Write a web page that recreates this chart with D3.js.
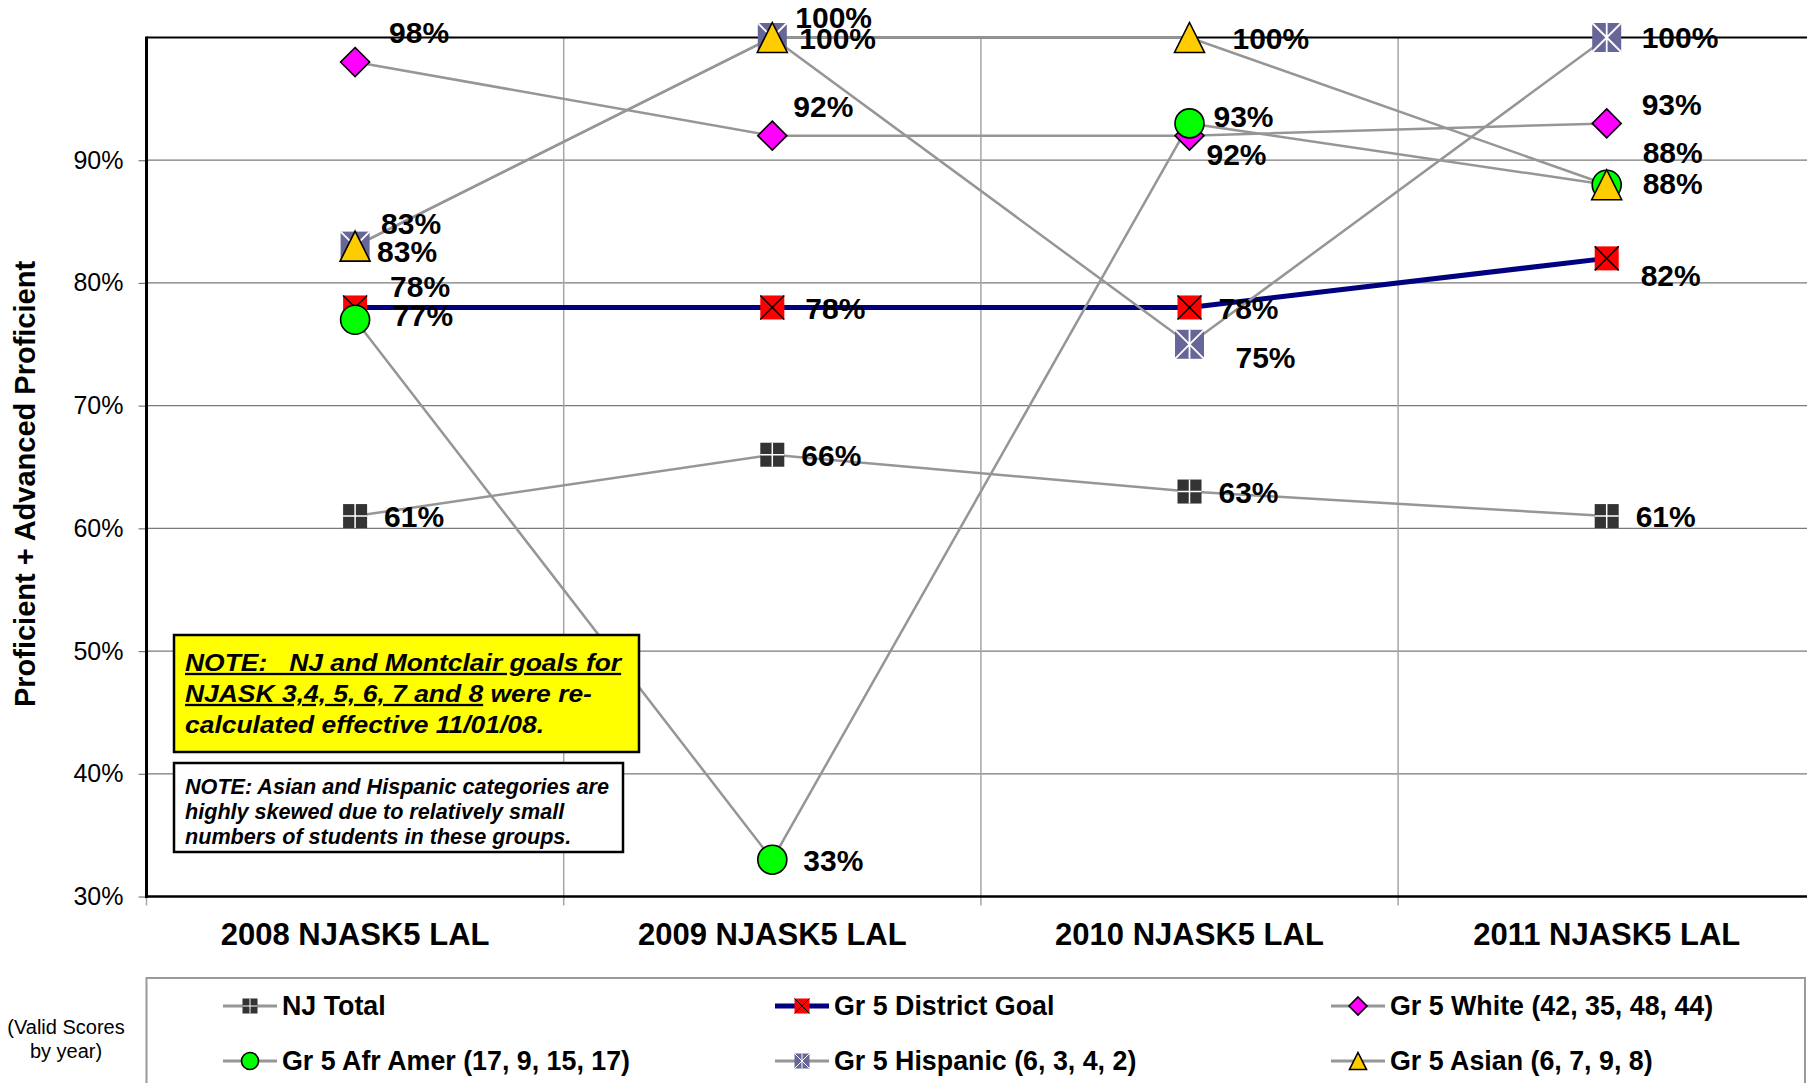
<!DOCTYPE html>
<html>
<head>
<meta charset="utf-8">
<script src="https://cdn.jsdelivr.net/npm/d3@7/dist/d3.min.js"></script>
<style>
  body { margin: 0; background: #fff; }
  svg { display: block; font-family: "Liberation Sans", Arial, sans-serif; }
</style>
</head>
<body>
<svg id="chart" width="1807" height="1083"></svg>
<script>
// chart values
const categories = ['2008 NJASK5 LAL', '2009 NJASK5 LAL', '2010 NJASK5 LAL', '2011 NJASK5 LAL'];
const njTotal = [61, 66, 63, 61];
const districtGoal = [78, 78, 78, 82];
const white = [98, 92, 92, 93];
const afrAmer = [77, 33, 93, 88];
const hispanic = [83, 100, 75, 100];
const asian = [83, 100, 100, 88];
const whiteCounts = [42, 35, 48, 44];
const afrAmerCounts = [17, 9, 15, 17];
const hispanicCounts = [6, 3, 4, 2];
const asianCounts = [6, 7, 9, 8];
const yTicks = [30, 40, 50, 60, 70, 80, 90];

// series setup (legend order = draw order)
const series = [
    { name: 'NJ Total', values: njTotal, marker: 'plusSquare', stroke: '#969696', width: 2.5 },
    { name: 'Gr 5 District Goal', values: districtGoal, marker: 'xSquare', stroke: '#000080', width: 5 },
    { name: 'Gr 5 White (' + whiteCounts.join(', ') + ')', values: white, marker: 'diamond', stroke: '#969696', width: 2.5 },
    { name: 'Gr 5 Afr Amer (' + afrAmerCounts.join(', ') + ')', values: afrAmer, marker: 'circle', stroke: '#969696', width: 2.5 },
    { name: 'Gr 5 Hispanic (' + hispanicCounts.join(', ') + ')', values: hispanic, marker: 'starSquare', stroke: '#969696', width: 2.5 },
    { name: 'Gr 5 Asian (' + asianCounts.join(', ') + ')', values: asian, marker: 'triangle', stroke: '#969696', width: 2.5 }
];

// where each data label sits relative to its marker [dx, dy]
const labelOffsets = [
    [[29, 0], [29, 1], [29, 1], [29, 0]],
    [[35, -21], [33, 1], [29, 1], [34, 17]],
    [[34, -30], [21, -29], [17, 19], [35, -19]],
    [[38, -4], [31, 1], [24, -7], [36, -32]],
    [[26, -23], [23, -20], [46, 13], [35, 0]],
    [[22, 5], [27, 1], [43, 1], [36, -1]]
];

const svg = d3.select('#chart');

const plotLeft = 146.5, plotTop = 37.5, plotBottom = 896.5, bandW = 417.2;
const plotRight = plotLeft + bandW * categories.length;

const x = d3.scaleBand().domain(categories).range([plotLeft, plotRight]);
const y = d3.scaleLinear().domain([30, 100]).range([plotBottom, plotTop]);
const cx = d => x(d) + x.bandwidth() / 2;

// gridlines
svg.append('g').selectAll('line')
    .data(yTicks.filter(t => t > 30))
    .enter().append('line')
    .attr('x1', plotLeft).attr('x2', plotRight)
    .attr('y1', d => y(d)).attr('y2', d => y(d))
    .attr('stroke', '#7a7a7a').attr('stroke-width', 1.2);

svg.append('g').selectAll('line')
    .data(categories)
    .enter().append('line')
    .attr('x1', d => x(d) + x.bandwidth()).attr('x2', d => x(d) + x.bandwidth())
    .attr('y1', plotTop).attr('y2', plotBottom + 9)
    .attr('stroke', '#a6a6a6').attr('stroke-width', 1.5);

svg.append('line') // left tick under axis
    .attr('x1', plotLeft).attr('x2', plotLeft)
    .attr('y1', plotBottom).attr('y2', plotBottom + 9)
    .attr('stroke', '#a6a6a6').attr('stroke-width', 1.5);

// plot border
svg.append('line')
    .attr('x1', plotLeft).attr('x2', plotRight)
    .attr('y1', plotTop).attr('y2', plotTop)
    .attr('stroke', '#000').attr('stroke-width', 2.2);

// y axis
const yAxis = svg.append('g')
    .attr('transform', `translate(${plotLeft},0)`)
    .call(d3.axisLeft(y).tickValues(yTicks).tickFormat(d => d + '%').tickSize(8).tickPadding(15));
yAxis.select('.domain').remove();
yAxis.selectAll('.tick line').attr('stroke', '#7a7a7a').attr('stroke-width', 1.2);
yAxis.selectAll('.tick text')
    .attr('font-size', 25).attr('font-family', '"Liberation Sans", Arial, sans-serif')
    .attr('fill', '#000');

svg.append('line')
    .attr('x1', plotLeft).attr('x2', plotLeft)
    .attr('y1', plotTop - 1).attr('y2', plotBottom + 1.5)
    .attr('stroke', '#000').attr('stroke-width', 3);
svg.append('line')
    .attr('x1', plotLeft).attr('x2', plotRight)
    .attr('y1', plotBottom).attr('y2', plotBottom)
    .attr('stroke', '#000').attr('stroke-width', 2.5);

// x axis labels
const xAxis = svg.append('g')
    .attr('transform', `translate(0,${plotBottom})`)
    .call(d3.axisBottom(x).tickSize(0).tickPadding(0));
xAxis.select('.domain').remove();
xAxis.selectAll('.tick text')
    .attr('y', 48).attr('dy', 0)
    .attr('font-size', 31).attr('font-weight', 'bold')
    .attr('font-family', '"Liberation Sans", Arial, sans-serif')
    .attr('fill', '#000');

// y axis title
svg.append('text')
    .attr('transform', 'translate(35,484) rotate(-90)')
    .attr('text-anchor', 'middle')
    .attr('font-size', 29).attr('font-weight', 'bold')
    .text('Proficient + Advanced Proficient');

// marker shapes
function drawMarker(g, type, s) {
    const h = s / 2;
    if (type === 'plusSquare') {
        g.append('rect').attr('x', -h).attr('y', -h).attr('width', s).attr('height', s).attr('fill', '#333333');
        g.append('path').attr('d', `M${-h},0H${h}M0,${-h}V${h}`)
            .attr('stroke', '#fff').attr('stroke-width', Math.max(1, s / 16));
    } else if (type === 'xSquare') {
        g.append('rect').attr('x', -h).attr('y', -h).attr('width', s).attr('height', s).attr('fill', '#ff0000');
        g.append('path').attr('d', `M${-h},${-h}L${h},${h}M${h},${-h}L${-h},${h}`)
            .attr('stroke', '#000').attr('stroke-width', Math.max(1, s / 16));
    } else if (type === 'diamond') {
        g.append('path').attr('d', `M0,${-h}L${h},0L0,${h}L${-h},0Z`)
            .attr('fill', '#ff00ff').attr('stroke', '#000').attr('stroke-width', 1.6);
    } else if (type === 'circle') {
        g.append('circle').attr('r', h)
            .attr('fill', '#00ff00').attr('stroke', '#000').attr('stroke-width', 1.6);
    } else if (type === 'starSquare') {
        g.append('rect').attr('x', -h).attr('y', -h).attr('width', s).attr('height', s).attr('fill', '#666699');
        g.append('path').attr('d', `M${-h},${-h}L${h},${h}M${h},${-h}L${-h},${h}M0,${-h}V${h}`)
            .attr('stroke', '#fff').attr('stroke-width', Math.max(1, s / 16));
    } else if (type === 'triangle') {
        g.append('path').attr('d', `M0,${-h}L${h},${h}L${-h},${h}Z`)
            .attr('fill', '#ffcc00').attr('stroke', '#000').attr('stroke-width', 1.6);
    }
}

const markerSize = { plusSquare: 24, xSquare: 24, diamond: 29, circle: 29, starSquare: 29, triangle: 30 };

// series lines
const line = d3.line().x((d, i) => cx(categories[i])).y(d => y(d));

svg.append('g').selectAll('path')
    .data(series)
    .enter().append('path')
    .attr('d', d => line(d.values))
    .attr('fill', 'none')
    .attr('stroke', d => d.stroke)
    .attr('stroke-width', d => d.width);

// markers
series.forEach(s => {
    s.values.forEach((v, i) => {
        const g = svg.append('g').attr('transform', `translate(${cx(categories[i])},${y(v)})`);
        drawMarker(g, s.marker, markerSize[s.marker]);
    });
});

// data labels
series.forEach((s, si) => {
    svg.append('g').selectAll('text')
        .data(s.values)
        .enter().append('text')
        .attr('x', (d, i) => cx(categories[i]) + labelOffsets[si][i][0])
        .attr('y', (d, i) => y(d) + labelOffsets[si][i][1])
        .attr('dy', '0.35em')
        .attr('font-size', 30).attr('font-weight', 'bold')
        .text(d => d + '%');
});

// note boxes
const note1 = svg.append('g');
note1.append('rect')
    .attr('x', 174).attr('y', 635).attr('width', 465).attr('height', 117)
    .attr('fill', '#ffff00').attr('stroke', '#000').attr('stroke-width', 2.5);
const note1Text = note1.append('g')
    .attr('transform', 'translate(185,0) scale(1.15,1)')
    .attr('font-size', 23).attr('font-weight', 'bold').attr('font-style', 'italic');
note1Text.append('text').attr('y', 671)
    .append('tspan').attr('text-decoration', 'underline').text('NOTE:\u00a0\u00a0 NJ and Montclair goals for');
const l2 = note1Text.append('text').attr('y', 702);
l2.append('tspan').attr('text-decoration', 'underline').text('NJASK 3,4, 5, 6, 7 and 8');
l2.append('tspan').text('\u00a0were re-');
note1Text.append('text').attr('y', 733).text('calculated effective 11/01/08.');

const note2 = svg.append('g');
note2.append('rect')
    .attr('x', 174).attr('y', 763).attr('width', 449).attr('height', 89)
    .attr('fill', '#fff').attr('stroke', '#000').attr('stroke-width', 2.5);
const note2Lines = ['NOTE: Asian and Hispanic categories are', 'highly skewed due to relatively small', 'numbers of students in these groups.'];
note2.append('g').selectAll('text')
    .data(note2Lines)
    .enter().append('text')
    .attr('x', 185).attr('y', (d, i) => 794 + i * 25)
    .attr('font-size', 21.6).attr('font-weight', 'bold').attr('font-style', 'italic')
    .text(d => d);

// legend
svg.append('rect')
    .attr('x', plotLeft).attr('y', 978).attr('width', 1805 - plotLeft).attr('height', 140)
    .attr('fill', '#fff').attr('stroke', '#9a9a9a').attr('stroke-width', 2);

const legendCols = [223, 775, 1331];
const legendRows = [1006, 1061];
const legendMarkerSize = { plusSquare: 15, xSquare: 15, diamond: 18, circle: 17, starSquare: 15, triangle: 17 };

series.forEach((s, i) => {
    const lx = legendCols[i % 3], ly = legendRows[Math.floor(i / 3)];
    const g = svg.append('g').attr('transform', `translate(${lx},${ly})`);
    g.append('line').attr('x1', 0).attr('x2', 54).attr('y1', 0).attr('y2', 0)
        .attr('stroke', s.stroke).attr('stroke-width', s.width === 5 ? 5 : 3);
    const m = g.append('g').attr('transform', 'translate(27,0)');
    drawMarker(m, s.marker, legendMarkerSize[s.marker]);
    g.append('text').attr('x', 59).attr('dy', '0.35em')
        .attr('font-size', 26.8).attr('font-weight', 'bold')
        .text(s.name);
});

svg.append('g').selectAll('text')
    .data(['(Valid Scores', 'by year)'])
    .enter().append('text')
    .attr('x', 66).attr('y', (d, i) => 1034 + i * 24)
    .attr('text-anchor', 'middle')
    .attr('font-size', 20)
    .text(d => d);
</script>
</body>
</html>
